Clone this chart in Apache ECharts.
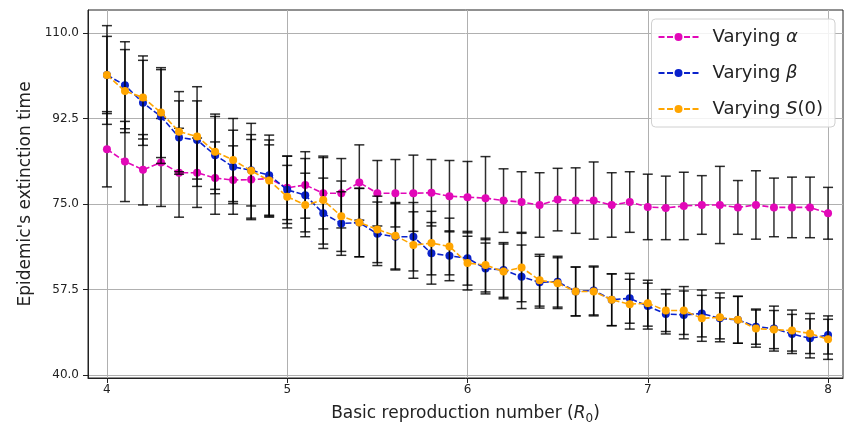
<!DOCTYPE html>
<html>
<head>
<meta charset="utf-8">
<script src="https://cdn.jsdelivr.net/npm/echarts@6/dist/echarts.min.js"></script>
<style>
html,body{margin:0;padding:0;background:#fff;}
#chart{width:846px;height:433px;}
</style>
</head>
<body>
<div id="chart"></div>
<script>
// Basic reproduction number R0 values
const r0Values = [4.0,4.1,4.2,4.3,4.4,4.5,4.6,4.7,4.8,4.9,5.0,5.1,5.2,5.3,5.4,5.5,5.6,5.7,5.8,5.9,6.0,6.1,6.2,6.3,6.4,6.5,6.6,6.7,6.8,6.9,7.0,7.1,7.2,7.3,7.4,7.5,7.6,7.7,7.8,7.9,8.0];

// Varying alpha
const alphaMean = [86.2,83.7,82.0,83.5,81.4,81.4,80.3,79.9,80.0,80.2,78.3,78.9,77.2,77.2,79.4,77.2,77.2,77.2,77.3,76.6,76.4,76.2,75.7,75.4,74.8,75.9,75.7,75.7,74.8,75.4,74.4,74.2,74.6,74.8,74.8,74.3,74.8,74.3,74.3,74.3,73.1];
const alphaErr  = [7.7,8.2,7.2,9.0,9.1,7.1,7.4,7.0,8.2,7.9,6.5,6.8,7.3,7.1,7.7,6.7,6.9,7.8,6.8,7.3,7.3,8.5,6.5,6.2,6.6,6.4,6.7,7.9,6.6,6.2,6.7,6.5,6.9,6.0,7.9,5.5,7.0,6.0,6.2,6.2,5.3];

// Varying beta
const betaMean = [101.4,99.3,95.7,92.9,88.6,88.1,85.0,82.6,81.9,80.9,77.9,76.8,73.1,71.0,71.2,68.9,68.3,68.3,64.9,64.4,63.9,61.8,61.5,60.1,59.0,59.1,57.1,57.3,55.4,55.7,54.1,52.5,52.3,52.6,51.6,51.3,49.9,49.5,48.4,47.5,48.2];
const betaErr  = [10.1,8.9,8.7,9.6,7.5,8.0,7.9,7.5,7.3,8.2,6.9,7.5,7.2,6.5,7.0,6.5,6.8,7.0,6.3,5.1,5.5,5.2,5.6,6.5,5.3,5.2,5.0,5.0,5.3,5.1,4.7,4.1,4.9,4.8,4.2,4.8,3.6,4.6,4.0,4.0,3.9];

// Varying S(0)
const s0Mean = [101.4,98.1,96.8,93.7,89.8,88.8,85.7,84.0,81.8,79.8,76.5,74.8,75.8,72.5,71.2,69.8,68.5,66.6,67.0,66.3,62.9,62.5,61.2,62.0,59.4,58.8,57.1,57.1,55.4,54.5,54.7,53.2,53.2,51.6,51.8,51.3,49.5,49.3,49.1,48.5,47.3];
const s0Err  = [7.9,8.5,8.5,9.2,8.2,10.2,7.7,8.5,9.7,7.3,6.4,6.5,9.0,7.2,7.0,6.8,6.8,6.8,6.5,5.8,5.5,5.5,5.6,7.0,5.3,5.2,5.0,5.0,5.3,5.1,4.7,4.3,4.9,4.7,5.0,4.8,3.8,3.9,4.2,4.1,4.1];

// Tick labels
const xTicks = [4, 5, 6, 7, 8];
const yTicks = [40.0, 57.5, 75.0, 92.5, 110.0];

const seriesNames = ['Varying α', 'Varying β', 'Varying S(0)'];
const seriesColors = ['#e208b8', '#0a22cc', '#ffa500'];
const means = [alphaMean, betaMean, s0Mean];
const errs = [alphaErr, betaErr, s0Err];

function errRender(params, api) {
  const x = api.value(0), m = api.value(1), e = api.value(2);
  const top = api.coord([x, m + e]);
  const bot = api.coord([x, m - e]);
  const hw = 5;
  const st = {stroke: 'rgba(0,0,0,0.82)', lineWidth: 1.5};
  return {type: 'group', children: [
    {type: 'line', shape: {x1: top[0], y1: top[1], x2: bot[0], y2: bot[1]}, style: st},
    {type: 'line', shape: {x1: top[0] - hw, y1: top[1], x2: top[0] + hw, y2: top[1]}, style: st},
    {type: 'line', shape: {x1: bot[0] - hw, y1: bot[1], x2: bot[0] + hw, y2: bot[1]}, style: st}
  ]};
}

const series = [];
for (let k = 0; k < 3; k++) {
  series.push({
    type: 'custom',
    name: 'err' + k,
    renderItem: errRender,
    data: r0Values.map((x, i) => [x, means[k][i], errs[k][i]]),
    encode: {x: 0, y: 1},
    z: 2 + k * 2,
    silent: true
  });
  series.push({
    type: 'line',
    name: seriesNames[k],
    data: r0Values.map((x, i) => [x, means[k][i]]),
    symbol: 'circle',
    symbolSize: 8,
    color: seriesColors[k],
    lineStyle: {type: [6, 2.5], width: 1.6, color: seriesColors[k]},
    itemStyle: {color: seriesColors[k]},
    z: 3 + k * 2,
    animation: false
  });
}

const chart = echarts.init(document.getElementById('chart'), null, {renderer: 'canvas'});
chart.setOption({
  animation: false,
  backgroundColor: '#fff',
  grid: {left: 88, top: 10, right: 3, bottom: 55, show: true, borderColor: '#222', borderWidth: 1},
  legend: {
    data: seriesNames,
    orient: 'vertical',
    right: 11,
    top: 19,
    itemWidth: 40,
    itemHeight: 10,
    itemGap: 18,
    padding: [9, 12, 9, 6],
    borderColor: '#d0d0d0',
    borderWidth: 1,
    borderRadius: 4,
    backgroundColor: 'rgba(255,255,255,0.85)',
    formatter: function (name) {
      if (name === 'Varying α') return 'Varying {i|α}';
      if (name === 'Varying β') return 'Varying {i|β}';
      return 'Varying {i|S}(0)';
    },
    textStyle: {
      fontFamily: 'DejaVu Sans', fontSize: 18, color: '#222',
      padding: [0, 0, 0, 9],
      rich: {i: {fontFamily: 'DejaVu Sans', fontStyle: 'italic', fontSize: 18, color: '#222'}}
    }
  },
  xAxis: {
    type: 'value',
    min: 3.895,
    max: 8.083,
    name: 'Basic reproduction number ({i|R}{s|0})',
    nameLocation: 'middle',
    nameGap: 25,
    nameTextStyle: {
      fontFamily: 'DejaVu Sans', fontSize: 17, color: '#222',
      rich: {
        i: {fontFamily: 'DejaVu Sans', fontStyle: 'italic', fontSize: 17, color: '#222'},
        s: {fontFamily: 'DejaVu Sans', fontSize: 12, color: '#222', padding: [10, 0, 0, 0]}
      }
    },
    axisLine: {show: true, lineStyle: {color: '#222', width: 1}},
    axisTick: {show: true, inside: false, length: 5, customValues: xTicks, lineStyle: {color: '#222'}},
    axisLabel: {customValues: xTicks, fontFamily: 'DejaVu Sans', fontSize: 12, color: '#222', margin: 6,
      formatter: v => String(Math.round(v))},
    splitLine: {show: true, lineStyle: {color: '#b0b0b0', width: 1}}
  },
  yAxis: {
    type: 'value',
    min: 39.39,
    max: 114.7,
    name: "Epidemic's extinction time",
    nameLocation: 'middle',
    nameGap: 54,
    nameTextStyle: {fontFamily: 'DejaVu Sans', fontSize: 17, color: '#222'},
    axisLine: {show: true, lineStyle: {color: '#222', width: 1}},
    axisTick: {show: true, inside: false, length: 5, customValues: yTicks, lineStyle: {color: '#222'}},
    axisLabel: {customValues: yTicks, fontFamily: 'DejaVu Sans', fontSize: 12, color: '#222', margin: 9,
      formatter: v => v.toFixed(1)},
    splitLine: {show: true, lineStyle: {color: '#b0b0b0', width: 1}}
  },
  series: series
});
</script>
</body>
</html>
